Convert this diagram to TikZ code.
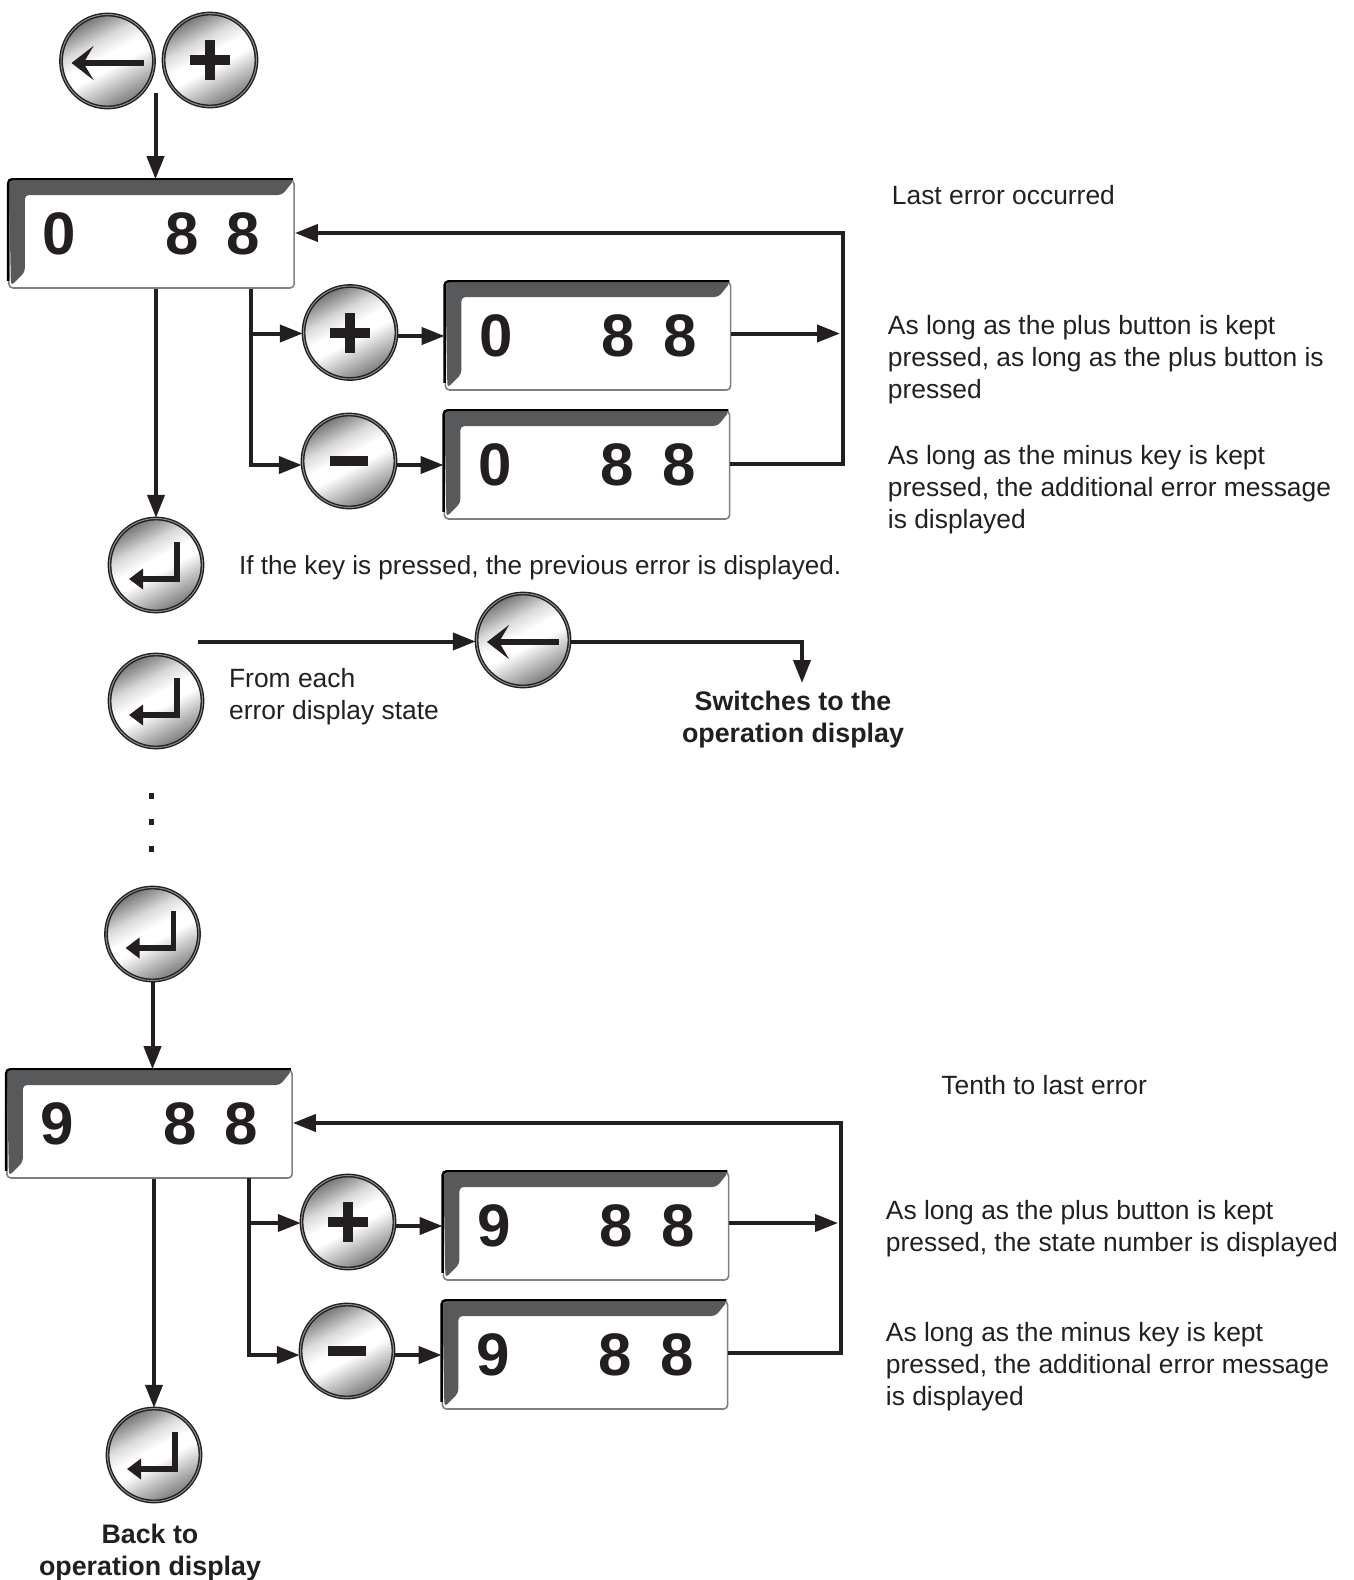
\documentclass[tikz,border=0pt]{standalone}
\usepackage{fontspec}
\setmainfont{Liberation Sans}
\usetikzlibrary{arrows.meta}
\definecolor{inkblack}{HTML}{231F20}
\definecolor{bevelgray}{HTML}{58595B}
\pgfdeclareverticalshading{keymetal}{100bp}{
	color(0bp)=(black!52); color(25bp)=(black!52); color(36bp)=(black!25);
	color(46bp)=(white); color(53bp)=(white); color(62bp)=(black!15);
	color(75bp)=(black!55); color(100bp)=(black!55)}
\tikzset{
	keybtn/.style={circle,inner sep=0pt,minimum size=46.5pt,draw=inkblack,line width=.7pt,
		double=black!45,double distance=.5pt,shading=keymetal,shading angle=28},
	dispbox/.style={rectangle,rounded corners=2pt,inner sep=0pt,minimum width=142.6pt,minimum height=54pt,
		draw=black!50,line width=.8pt,fill=white,text=inkblack,
		font=\fontsize{30}{30}\selectfont\bfseries,
		path picture={
			\fill[bevelgray] (path picture bounding box.north west) -- (path picture bounding box.north east)
			-- ([shift={(-6pt,-7.5pt)}]path picture bounding box.north east) -- ([shift={(8pt,-7.5pt)}]path picture bounding box.north west)
			-- ([shift={(8pt,8pt)}]path picture bounding box.south west) -- ([shift={(1pt,1pt)}]path picture bounding box.south west) -- cycle;}},
	dispedge/.style={draw=black,line width=1.2pt,rounded corners=2pt},
	conn/.style={draw=inkblack,line width=2pt,-{Triangle[length=11.5pt,width=8.5pt]}},
	glyph/.style={draw=inkblack,line width=5pt},
	enterglyph/.style={draw=inkblack,line width=2.8pt,-{Triangle[length=7pt,width=10pt]}},
	backglyph/.style={draw=inkblack,line width=3pt,-{Stealth[length=11pt,width=17pt,inset=5pt]}},
	note/.style={anchor=west,inner sep=0pt,align=left,text=inkblack,font=\fontsize{13.2}{16}\selectfont},
	boldnote/.style={inner sep=0pt,align=center,text=inkblack,font=\fontsize{13.4}{16}\selectfont\bfseries},
	dot/.style={rectangle,fill=inkblack,inner sep=0pt,minimum size=2.6pt}
}
\newcommand{\digits}[1]{\raisebox{-.6pt}{#1\hspace{44.5pt}8\hspace{14.2pt}8}}
\begin{document}
\begin{tikzpicture}
	[x=.5pt,y=-.5pt]
	\useasboundingbox (0,0) rectangle (1354,1580);
	% upper error block
	\node[keybtn] (k1) at (107.5,61) {};
	\node[keybtn] (k2) at (210,60) {};
	\node[dispbox] (d1) at (151.5,234) {\digits{0}};
	\node[keybtn] (k3) at (350,332.5) {};
	\node[keybtn] (k4) at (349,461) {};
	\node[dispbox] (d2) at (588,336) {\digits{0}};
	\node[dispbox] (d3) at (587,465) {\digits{0}};
	\node[keybtn] (k5) at (156,565) {};
	\node[keybtn] (k6) at (523,640) {};
	\node[keybtn] (k7) at (156,701) {};
	% lower error block
	\node[keybtn] (k8) at (152.5,934) {};
	\node[dispbox] (d4) at (149.5,1124) {\digits{9}};
	\node[keybtn] (k9) at (348,1222) {};
	\node[keybtn] (k10) at (347,1351) {};
	\node[dispbox] (d5) at (586,1226) {\digits{9}};
	\node[dispbox] (d6) at (585,1355) {\digits{9}};
	\node[keybtn] (k11) at (154,1455) {};
	
	\foreach \d in {d1,d2,d3,d4,d5,d6}
	\draw[dispedge] ([yshift=4pt]\d.south west) -- (\d.north west) -- ([xshift=-1pt]\d.north east);
	
	% key faces
	\foreach \k in {k2,k3,k9}
	\draw[glyph] ([xshift=-10pt]\k.center) -- ([xshift=10pt]\k.center)
	([yshift=-10pt]\k.center) -- ([yshift=10pt]\k.center);
	\foreach \k in {k4,k10}
	\draw[glyph] ([xshift=-9.5pt]\k.center) -- ([xshift=9.5pt]\k.center);
	\foreach \k in {k1,k6}
	\draw[backglyph] ([shift={(36,2)}]\k.center) -- ([shift={(-36,2)}]\k.center);
	\foreach \k in {k5,k7,k8,k11}
	\draw[enterglyph] ([shift={(21,-23)}]\k.center) -- ([shift={(21,14)}]\k.center) -- ([shift={(-27,14)}]\k.center);
	
	% free ends
	\coordinate (s1) at (155.5,93);
	\coordinate (b1) at (250.5,289);
	\coordinate (b2) at (248.5,1178);
	\coordinate (f1) at (843,233);
	\coordinate (f2) at (841,1123);
	\coordinate (v1) at (843,463.5);
	\coordinate (v2) at (841,1352.5);
	\coordinate (t1) at (840,333.5);
	\coordinate (t2) at (838,1223);
	\coordinate (s2) at (197.5,641.5);
	\coordinate (e1) at (802,683);
	
	\draw[conn] (s1) -- (s1 |- d1.north);
	\draw[conn] (k5 |- d1.south) -- (k5);
	\draw[conn] (k8) -- (k8 |- d4.north);
	\draw[conn] (k11 |- d4.south) -- (k11);
	\foreach \from/\to/\lvl in {b1/k3/t1,b1/k4/d3,b2/k9/t2,b2/k10/d6}
	\draw[conn] (\from) |- (\to.west |- \lvl);
	\foreach \from/\to in {k3/d2,k4/d3,k9/d5,k10/d6}
	\draw[conn] (\from.east |- \to) -- (\to);
	\foreach \from/\to in {d2/t1,d5/t2}
	\draw[conn] (\from.east |- \to) -- (\to);
	\foreach \from/\via/\turn/\to in {d3/v1/f1/d1,d6/v2/f2/d4}
	\draw[conn] (\from.east |- \via) -- (\via) -- (\turn) -- (\to.east |- \turn);
	\draw[conn] (s2) -- (k6.west |- s2);
	\draw[conn] (k6.east |- s2) -| (e1);
	
	\foreach \n/\y in {1/796,2/822,3/849}
	\node[dot] (p\n) at (151.5,\y) {};
	
	% notes
	\node[note] (t3) at (891.5,195) {Last error occurred};
	\node[note] (t4) at (887.5,359.6) {As long as the plus button is kept\\pressed, as long as the plus button is\\pressed};
	\node[note] (t5) at (887.5,489.6) {As long as the minus key is kept\\pressed, the additional error message\\is displayed};
	\node[note,font=\fontsize{13.05}{16}\selectfont] (t6) at (238.8,567.5) {If the key is pressed, the previous error is displayed.};
	\node[note] (t7) at (228.7,697) {From each\\error display state};
	\node[boldnote] (t8) at (793,720) {Switches to the\\operation display};
	\node[note] (t9) at (941,1085) {Tenth to last error};
	\node[note] (t10) at (885.5,1229) {As long as the plus button is kept\\pressed, the state number is displayed};
	\node[note] (t11) at (885.5,1367) {As long as the minus key is kept\\pressed, the additional error message\\is displayed};
	\node[boldnote] (t12) at (150,1552.5) {Back to\\operation display};
\end{tikzpicture}
\end{document}
